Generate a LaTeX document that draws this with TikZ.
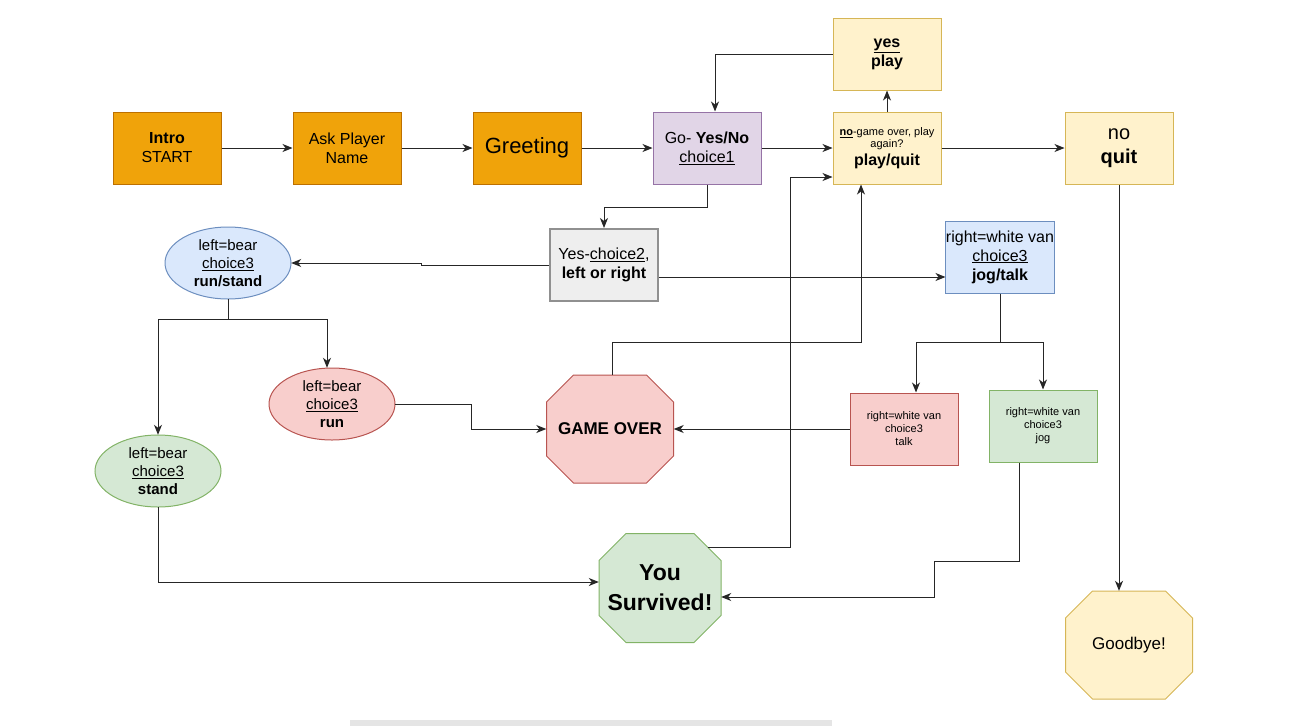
\documentclass[tikz,border=0pt]{standalone}
\usepackage{fontspec}
\setmainfont{Liberation Sans}
\usetikzlibrary{calc,arrows.meta}
\definecolor{OrangeFill}{HTML}{F0A30A}
\definecolor{OrangeLine}{HTML}{BD7000}
\definecolor{PurpleFill}{HTML}{E1D5E7}
\definecolor{PurpleLine}{HTML}{9673A6}
\definecolor{YellowFill}{HTML}{FFF2CC}
\definecolor{YellowLine}{HTML}{D6B656}
\definecolor{GrayFill}{HTML}{EEEEEE}
\definecolor{GrayLine}{HTML}{909090}
\definecolor{BlueFill}{HTML}{DAE8FC}
\definecolor{BlueLine}{HTML}{6C8EBF}
\definecolor{RedFill}{HTML}{F8CECC}
\definecolor{RedLine}{HTML}{B85450}
\definecolor{GreenFill}{HTML}{D5E8D4}
\definecolor{GreenLine}{HTML}{82B366}
\tikzset{
Link/.style={draw=black!85,line width=1pt,-{Stealth[length=10pt,width=8pt,inset=3pt]}},
Box/.style={rectangle,draw,line width=1pt,minimum width=108,minimum height=72,align=center,inner xsep=0pt,inner ysep=2pt,font=\fontsize{16}{19}\selectfont},
Orange/.style={fill=OrangeFill,draw=OrangeLine},
Purple/.style={fill=PurpleFill,draw=PurpleLine},
Yellow/.style={fill=YellowFill,draw=YellowLine},
Gray/.style={fill=GrayFill,draw=GrayLine,line width=2pt},
Blue/.style={fill=BlueFill,draw=BlueLine},
Red/.style={fill=RedFill,draw=RedLine},
Green/.style={fill=GreenFill,draw=GreenLine}
}
\newcommand{\MakeEll}[4][]{%
	\filldraw[line width=1pt,#1] (#3) ellipse [x radius=63pt,y radius=36pt];%
	\node[minimum width=126,minimum height=72,align=center,inner sep=0pt,font=\fontsize{15}{18}\selectfont] (#2) at (#3) {#4};%
}
\newcommand{\MakeOcta}[6][]{%
	\begin{scope}[shift={(#3)}]%
		\filldraw[line width=1pt,#1] ({-#4/2+27},{-#5/2}) -- ({#4/2-27},{-#5/2}) -- ({#4/2},{-#5/2+27}) -- ({#4/2},{#5/2-27})
			-- ({#4/2-27},{#5/2}) -- ({-#4/2+27},{#5/2}) -- ({-#4/2},{#5/2-27}) -- ({-#4/2},{-#5/2+27}) -- cycle;%
		\node[#1,draw=none,fill=none,minimum width=#4,minimum height=#5,align=center,inner sep=0pt] (#2) at (0,0) {#6};%
	\end{scope}%
}

\begin{document}
\begin{tikzpicture}[x={(1pt,0)},y={(0,-1pt)}]
	\useasboundingbox (0,0) rectangle (1306,726);
	
	\begin{scope}% Top row
		\node[Box,Orange] (Intro) at (167,148) {\textbf{Intro}\\START};
		\node[Box,Orange] (AskName) at (347,148) {Ask Player\\Name};
		\node[Box,Orange,font=\fontsize{22}{26}\selectfont] (Greeting) at (527,148) {Greeting};
		\node[Box,Purple] (Choice1) at (707,148) {Go- \textbf{Yes/No}\\\underline{choice1}};
		\node[Box,Yellow,font=\fontsize{11}{12}\selectfont] (PlayQuit) at (887,148) {\underline{\textbf{no}}-game over, play\\again?\\[3pt]\fontsize{16}{19}\selectfont\textbf{play/quit}};
		\node[Box,Yellow] (YesPlay) at (887,54) {\textbf{\underline{yes}}\\\textbf{play}};
		\node[Box,Yellow,font=\fontsize{20}{24}\selectfont] (NoQuit) at (1119,148) {no\\\textbf{quit}};
	\end{scope}
	
	\begin{scope}% Choices
		\node[Box,Gray] (Choice2) at (604,265) {Yes-\underline{choice2},\\\textbf{left or right}};
		\MakeEll[Blue]{Bear}{228,263}{left=bear\\\underline{choice3}\\\textbf{run/stand}}
		\MakeEll[Red]{BearRun}{332,404}{left=bear\\\underline{choice3}\\\textbf{run}}
		\MakeEll[Green]{BearStand}{158,471}{left=bear\\\underline{choice3}\\\textbf{stand}}
		\node[Box,Blue] (Van) at (1000,257) {right=white van\\\underline{choice3}\\\textbf{jog/talk}};
		\node[Box,Red,font=\fontsize{11}{13}\selectfont] (VanTalk) at (904,429) {right=white van\\choice3\\talk};
		\node[Box,Green,font=\fontsize{11}{13}\selectfont] (VanJog) at (1043,426) {right=white van\\choice3\\jog};
	\end{scope}
	
	\begin{scope}% Endings
		\MakeOcta[Red,font=\fontsize{17}{20}\selectfont\bfseries]{GameOver}{610,429}{127}{108}{GAME OVER}
		\MakeOcta[Green,font=\fontsize{23}{30}\selectfont\bfseries]{Survived}{660,588}{122}{109}{You\\Survived!}
		\MakeOcta[Yellow,font=\fontsize{17}{20}\selectfont]{Goodbye}{1129,645}{127}{108}{Goodbye!}
	\end{scope}
	
	\begin{scope}[every path/.style={Link}]
		\draw (Intro) -- (AskName);
		\draw (AskName) -- (Greeting);
		\draw (Greeting) -- (Choice1);
		\draw (Choice1) -- (PlayQuit);
		\draw (PlayQuit) -- (NoQuit);
		\draw (PlayQuit) -- (YesPlay);
		\draw (YesPlay.west) -| ($(Choice1.north)+(8,0)$);
		\draw (Choice1.south) -- ++(0,23) -| (Choice2.north);
		\draw (Choice2.west) -- ++(-128,0) |- (Bear.east);
		\draw ($(Choice2.east)+(0,12)$) -- ($(Van.west)+(0,20)$);
		\draw (Bear.south) -- ++(0,20) coordinate (BearFork) -| (BearStand.north);
		\draw (BearFork) -| ($(BearRun.north)+(-5,0)$);
		\draw (BearRun.east) -- ++(76,0) |- (GameOver.west);
		\draw ($(GameOver.north)+(2,0)$) -- ++(0,-32) -| ($(PlayQuit.south)+(-26,0)$);
		\draw (Van.south) -- ++(0,49) coordinate (VanFork) -| ($(VanTalk.north)+(12,0)$);
		\draw (VanFork) -| (VanJog.north);
		\draw (VanTalk.west) -- (GameOver.east);
		\draw ($(VanJog.south)+(-24,0)$) -- ++(0,99) -| ($(Survived.east)+(213,9)$) -- ($(Survived.east)+(0,9)$);
		\draw (BearStand.south) |- ($(Survived.west)+(0,-6)$);
		\draw ($(Survived.north east)+(-13,14)$) -- ++(82,0) |- ($(PlayQuit.west)+(0,29)$);
		\draw (NoQuit.south) -- ($(Goodbye.north)+(-10,0)$);
	\end{scope}
	
	\fill[black!10] (350,720) rectangle (832,726);
\end{tikzpicture}
\end{document}
